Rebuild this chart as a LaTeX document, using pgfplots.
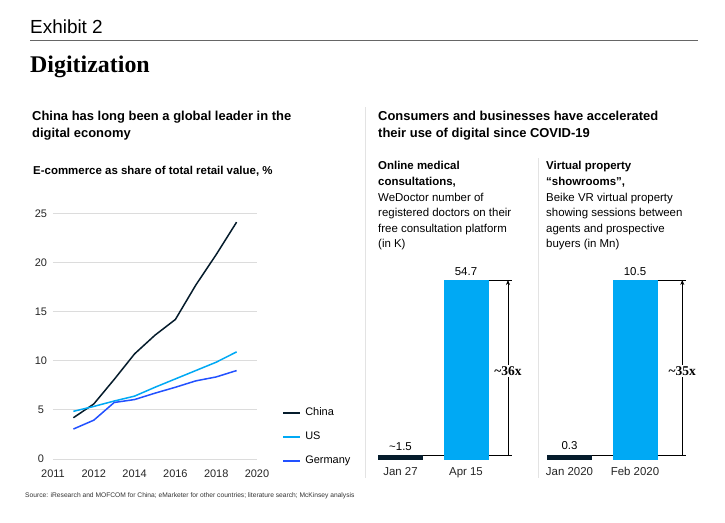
\documentclass[border=0pt]{standalone}
\usepackage{fontspec}
\setmainfont{Liberation Sans}
\newfontfamily\serifb{Liberation Serif}
\usepackage{pgfplots}
\pgfplotsset{compat=1.18}
\usetikzlibrary{arrows.meta}
\definecolor{navy}{HTML}{051C2C}
\definecolor{cyanb}{HTML}{00A9F4}
\definecolor{elec}{HTML}{2251FF}
\definecolor{gridc}{HTML}{DCDCDC}
\definecolor{sepc}{HTML}{E3E3E3}
\newcommand{\T}[4]{\node[anchor=base west, inner sep=0pt, font=#3] at (#1,#2) {#4};}
\newcommand{\fs}[1]{\fontsize{#1}{#1}\selectfont}
\begin{document}
\begin{tikzpicture}
\useasboundingbox (0,0) rectangle (725bp,-523bp);
\fill[white] (0,0) rectangle (725bp,-523bp);
\begin{scope}[x=1bp,y=-1bp]
\T{30}{33}{\fs{19}}{Exhibit 2}
\draw[black!60, line width=1.2bp] (30,40.7) -- (698,40.7);
\T{30}{72.7}{\serifb\bfseries\fs{24}}{Digitization}
\T{32}{120}{\bfseries\fs{13}}{China has long been a global leader in the}
\T{32}{137.5}{\bfseries\fs{13}}{digital economy}
\T{33}{174}{\bfseries\fs{11.5}}{E-commerce as share of total retail value, \%}
\T{378}{120}{\bfseries\fs{13}}{Consumers and businesses have accelerated}
\T{378}{137.5}{\bfseries\fs{13}}{their use of digital since COVID-19}
\T{378}{169}{\bfseries\fs{11.5}}{Online medical}
\T{378}{185}{\bfseries\fs{11.5}}{consultations,}
\T{378}{201}{\fs{11.5}}{WeDoctor number of}
\T{378}{216.5}{\fs{11.5}}{registered doctors on their}
\T{378}{232}{\fs{11.5}}{free consultation platform}
\T{378}{247.5}{\fs{11.5}}{(in K)}
\T{546}{169}{\bfseries\fs{11.5}}{Virtual property}
\T{546}{185}{\bfseries\fs{11.5}}{“showrooms”,}
\T{546}{201}{\fs{11.5}}{Beike VR virtual property}
\T{546}{216.5}{\fs{11.5}}{showing sessions between}
\T{546}{232}{\fs{11.5}}{agents and prospective}
\T{546}{247.5}{\fs{11.5}}{buyers (in Mn)}
\draw[sepc, line width=1bp] (365,107) -- (365,478);
\draw[sepc, line width=1bp] (538,158) -- (538,478);
\T{25}{497}{\color{black!80}\fs{6.7}}{Source: iResearch and MOFCOM for China; eMarketer for other countries; literature search; McKinsey analysis}
\end{scope}

% Left line chart
\begin{axis}[at={(53bp,-459bp)}, anchor=south west, scale only axis,
  width=204bp, height=245.7bp, xmin=2010, xmax=2020, ymin=0, ymax=25,
  axis line style={draw=none}, major tick length=0pt,
  ymajorgrids, grid style={gridc, line width=0.9bp},
  xtick={2010,2012,2014,2016,2018,2020},
  xticklabels={2011,2012,2014,2016,2018,2020},
  ytick={0,5,10,15,20,25},
  /pgf/number format/assume math mode=true,
  ticklabel style={font=\fs{11}, text=black!85},
  yticklabel style={anchor=center, xshift=-12bp},
  xticklabel style={anchor=base, yshift=-18bp},
  clip=false,
  legend style={draw=none, fill=none, anchor=north west, at={(axis description cs:1.124,0.21)},
    inner sep=0pt, font=\fs{11}, row sep=13.5bp,
    nodes={inner sep=0pt, text height=8bp, text depth=2.5bp},
    /tikz/every odd column/.append style={column sep=4bp}},
  legend cell align=left,
  legend image code/.code={\draw[#1, line width=1.8bp] (0bp,0bp) -- (17bp,0bp);},
]
\addplot[navy, line width=1.5bp] coordinates {(2011,4.2) (2012,5.6) (2013,8.1) (2014,10.7) (2015,12.6) (2016,14.2) (2017,17.7) (2018,20.8) (2019,24.1)};
\addlegendentry{China}
\addplot[cyanb, line width=1.5bp] coordinates {(2011,4.85) (2012,5.35) (2013,5.9) (2014,6.4) (2015,7.3) (2016,8.15) (2017,9.0) (2018,9.85) (2019,10.9)};
\addlegendentry{US}
\addplot[elec, line width=1.5bp] coordinates {(2011,3.05) (2012,3.95) (2013,5.75) (2014,6.05) (2015,6.7) (2016,7.3) (2017,7.95) (2018,8.35) (2019,9.0)};
\addlegendentry{Germany}
\end{axis}

% Bar panel 1
\begin{axis}[at={(400.5bp,-460bp)}, anchor=south west, scale only axis,
  width=65.5bp, height=180bp, xmin=0, xmax=1, ymin=0, ymax=54.7,
  axis line style={draw=none}, major tick length=0pt,
  xtick={0,1}, xticklabels={Jan 27, Apr 15}, ytick=\empty,
  ticklabel style={font=\fs{11.5}, text=black!85},
  xticklabel style={anchor=base, yshift=-15bp},
  clip=false, ybar, bar width=45bp]
\addplot[fill=navy, draw=none, bar shift=0pt] coordinates {(0,1.5)};
\addplot[fill=cyanb, draw=none, bar shift=0pt] coordinates {(1,54.7)};
\draw[black, line width=0.7bp] (axis cs:0.3435,1.5) -- (axis cs:0.66,1.5);
\draw[black, line width=0.7bp] (axis cs:1.3435,1.5) -- (axis cs:1.702,1.5);
\draw[black, line width=0.7bp] (axis cs:1.3435,54.7) -- (axis cs:1.702,54.7);
\draw[black, line width=0.7bp, -{Stealth[length=5bp,width=4bp]}] (axis cs:1.641,1.5) -- (axis cs:1.641,54.7);
\node[fill=white, inner sep=1.5bp, font=\serifb\bfseries\fs{13.5}] at (axis cs:1.641,27.05) {\textasciitilde36x};
\node[anchor=base, inner sep=0pt, font=\fs{11.5}, yshift=5bp] at (axis cs:0,1.5) {\textasciitilde1.5};
\node[anchor=base, inner sep=0pt, font=\fs{11.5}, yshift=5bp] at (axis cs:1,54.7) {54.7};
\end{axis}

% Bar panel 2
\begin{axis}[at={(569.5bp,-460bp)}, anchor=south west, scale only axis,
  width=65.5bp, height=180bp, xmin=0, xmax=1, ymin=0, ymax=10.5,
  axis line style={draw=none}, major tick length=0pt,
  xtick={0,1}, xticklabels={Jan 2020, Feb 2020}, ytick=\empty,
  ticklabel style={font=\fs{11.5}, text=black!85},
  xticklabel style={anchor=base, yshift=-15bp},
  clip=false, ybar, bar width=45bp]
\addplot[fill=navy, draw=none, bar shift=0pt] coordinates {(0,0.3)};
\addplot[fill=cyanb, draw=none, bar shift=0pt] coordinates {(1,10.5)};
\draw[black, line width=0.7bp] (axis cs:0.3435,0.3) -- (axis cs:0.66,0.3);
\draw[black, line width=0.7bp] (axis cs:1.3435,0.3) -- (axis cs:1.771,0.3);
\draw[black, line width=0.7bp] (axis cs:1.3435,10.5) -- (axis cs:1.771,10.5);
\draw[black, line width=0.7bp, -{Stealth[length=5bp,width=4bp]}] (axis cs:1.722,0.3) -- (axis cs:1.722,10.5);
\node[fill=white, inner sep=1.5bp, font=\serifb\bfseries\fs{13.5}] at (axis cs:1.722,5.19) {\textasciitilde35x};
\node[anchor=base, inner sep=0pt, font=\fs{11.5}, yshift=5bp] at (axis cs:0,0.3) {0.3};
\node[anchor=base, inner sep=0pt, font=\fs{11.5}, yshift=5bp] at (axis cs:1,10.5) {10.5};
\end{axis}
\end{tikzpicture}
\end{document}
